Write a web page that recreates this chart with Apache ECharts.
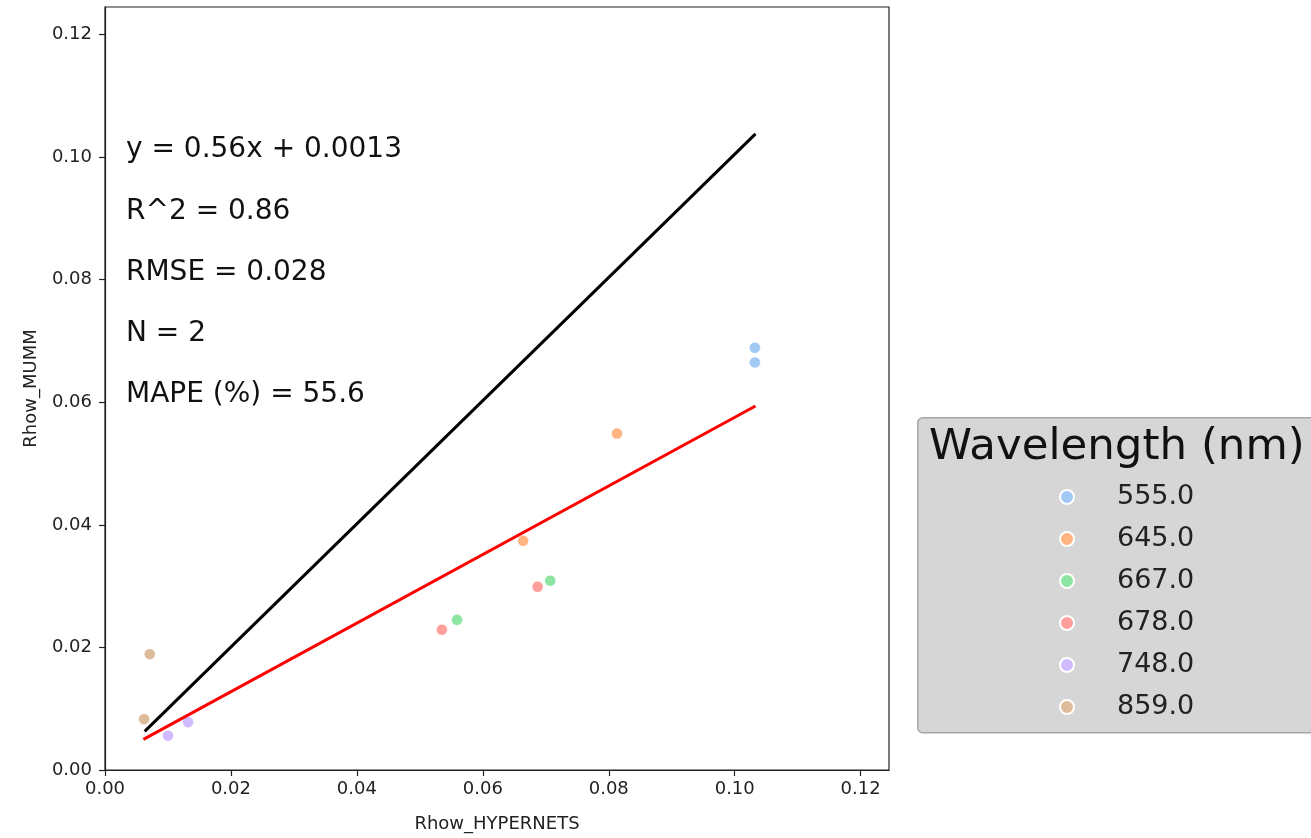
<!DOCTYPE html>
<html>
<head>
<meta charset="utf-8">
<script src="https://cdn.jsdelivr.net/npm/echarts@6/dist/echarts.min.js"></script>
<style>
html,body{margin:0;padding:0;background:#fff;}
#chart{width:1311px;height:838px;}
</style>
</head>
<body>
<div id="chart"></div>
<script>
// ---- data ----
const wavelengths = ['555.0', '645.0', '667.0', '678.0', '748.0', '859.0'];
const pts555 = [[0.1032, 0.0689], [0.1032, 0.0665]];
const pts645 = [[0.0813, 0.0549], [0.0664, 0.0374]];
const pts667 = [[0.0707, 0.0309], [0.0559, 0.0245]];
const pts678 = [[0.0687, 0.0299], [0.0535, 0.0229]];
const pts748 = [[0.0100, 0.0056], [0.0132, 0.0078]];
const pts859 = [[0.0071, 0.0189], [0.0062, 0.0083]];
const oneToOneLine = [[0.0063, 0.0063], [0.1033, 0.1038]];
const fitLine = [[0.0061, 0.0050], [0.1033, 0.0594]];
const tickValues = [0, 0.02, 0.04, 0.06, 0.08, 0.10, 0.12];
const statLines = ['y = 0.56x + 0.0013', 'R^2 = 0.86', 'RMSE = 0.028', 'N = 2', 'MAPE (%) = 55.6'];
const legendTitle = 'Wavelength (nm)';
const xName = 'Rhow_HYPERNETS';
const yName = 'Rhow_MUMM';

// ---- styles ----
const palette = ['#a1c9f4', '#ffb482', '#8de5a1', '#ff9f9b', '#d0bbff', '#debb9b'];
const FONT = 'DejaVu Sans';
const allPts = [pts555, pts645, pts667, pts678, pts748, pts859];
const axisMax = 0.1245;

const chart = echarts.init(document.getElementById('chart'), null, {renderer: 'canvas'});

function axis(name, isY) {
  return {
    type: 'value',
    min: 0,
    max: axisMax,
    name: name,
    nameLocation: 'middle',
    nameGap: isY ? 65 : 45,
    nameTextStyle: {fontFamily: FONT, fontSize: 18, color: '#222'},
    axisLine: {show: true, onZero: false, lineStyle: {color: '#222', width: 1.2}},
    axisTick: {show: true, inside: false, length: 6, customValues: tickValues, lineStyle: {color: '#222', width: 1.2}},
    axisLabel: {
      show: true, customValues: tickValues, margin: isY ? 13 : 10,
      fontFamily: FONT, fontSize: 18, color: '#222',
      formatter: v => v.toFixed(2)
    },
    splitLine: {show: false}
  };
}

const series = wavelengths.map((w, i) => ({
  name: w,
  type: 'scatter',
  data: allPts[i],
  symbol: 'circle',
  symbolSize: 11,
  itemStyle: {color: palette[i], borderColor: '#fff', borderWidth: 0.4, opacity: 1},
  z: 2
}));
series.push({
  name: '1:1', type: 'line', data: oneToOneLine, showSymbol: false, symbol: 'none',
  lineStyle: {color: '#000', width: 3}, z: 3, silent: true
});
series.push({
  name: 'fit', type: 'line', data: fitLine, showSymbol: false, symbol: 'none',
  lineStyle: {color: '#ff0000', width: 3}, z: 3, silent: true
});

const statGraphics = statLines.map((t, i) => ({
  type: 'text',
  left: 126,
  top: 152 + i * 61.3 - 16,
  style: {text: t, fontFamily: FONT, fontSize: 28, fill: '#111'}
}));

chart.setOption({
  backgroundColor: '#fff',
  animation: false,
  grid: {left: 105, top: 7, width: 784, height: 763, show: true, borderColor: '#222', borderWidth: 1.2, containLabel: false, outerBoundsMode: 'none'},
  xAxis: axis(xName, false),
  yAxis: axis(yName, true),
  legend: {
    data: wavelengths,
    orient: 'vertical',
    left: 1054,
    top: 478,
    icon: 'circle',
    itemWidth: 14,
    itemHeight: 14,
    itemGap: 14,
    textStyle: {fontFamily: FONT, fontSize: 27, color: '#222', lineHeight: 28, padding: [0, 0, 0, 38]},
    selectedMode: false
  },
  graphic: [
    {
      type: 'rect', left: 917, top: 417, z: -1,
      shape: {width: 420, height: 315, r: 5},
      style: {fill: '#d6d6d6', stroke: '#a6a6a6', lineWidth: 1.5}
    },
    {
      type: 'text', left: 929, top: 426,
      style: {text: legendTitle, fontFamily: FONT, fontSize: 43.5, fill: '#111'}
    }
  ].concat(statGraphics),
  series: series
});
</script>
</body>
</html>
